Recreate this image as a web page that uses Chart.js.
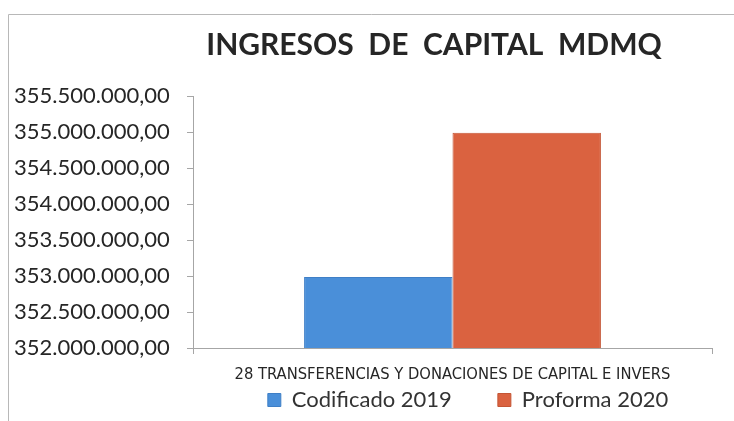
<!DOCTYPE html>
<html>
<head>
<meta charset="utf-8">
<script src="https://cdn.jsdelivr.net/npm/chart.js@4.4.1/dist/chart.umd.min.js"></script>
<style>
  html, body { margin: 0; padding: 0; background: #fff; }
  #wrap { width: 734px; height: 421px; position: relative; }
</style>
</head>
<body>
<div id="wrap"><canvas id="chart"></canvas></div>
<script>
const categories = ['28 TRANSFERENCIAS Y DONACIONES DE CAPITAL E INVERS'];
const seriesNames = ['Codificado 2019', 'Proforma 2020'];
const codificado2019 = [352985000];
const proforma2020 = [354990000];
const yMin = 352000000;
const yMax = 355500000;
const yStep = 500000;

const fmt = v => v.toLocaleString('de-DE', { minimumFractionDigits: 2, maximumFractionDigits: 2 });

// frame around the chart like the Excel chart border, and shift title/legend like Excel
const framePlugin = {
  id: 'frame',
  beforeDraw(chart) {
    const c = chart.ctx;
    c.save();
    c.strokeStyle = '#b8b8b8';
    c.lineWidth = 1;
    c.beginPath();
    c.moveTo(8.5, 421);
    c.lineTo(8.5, 14.5);
    c.lineTo(734, 14.5);
    c.stroke();
    c.restore();
  },
  afterLayout(chart) {
    const lg = chart.legend;
    if (lg) { lg.left += 105; lg.right += 105; }
    const tb = chart.titleBlock;
    if (tb) { tb.left += 71; tb.right += 71; }
  }
};

new Chart(document.getElementById('chart'), {
  type: 'bar',
  data: {
    labels: categories,
    datasets: [
      { label: seriesNames[0], data: codificado2019, backgroundColor: '#4a8fd9', borderColor: '#3f7fc6', borderWidth: 1 },
      { label: seriesNames[1], data: proforma2020, backgroundColor: '#da6240', borderColor: '#c45535', borderWidth: 1 }
    ]
  },
  plugins: [framePlugin],
  options: {
    responsive: true,
    maintainAspectRatio: false,
    animation: false,
    layout: { padding: { left: 14, right: 22, top: 14, bottom: 0 } },
    datasets: { bar: { barPercentage: 1, categoryPercentage: 0.572 } },
    plugins: {
      title: {
        display: true,
        text: 'INGRESOS  DE  CAPITAL  MDMQ',
        color: '#262626',
        font: { family: 'Lato', size: 30, weight: 'bold' },
        padding: { top: 13, bottom: 33 }
      },
      legend: {
        position: 'bottom',
        labels: {
          color: '#333',
          font: { family: 'Lato', size: 22 },
          boxWidth: 13,
          boxHeight: 13,
          padding: 2,
          generateLabels(chart) {
            const items = Chart.defaults.plugins.legend.labels.generateLabels(chart);
            items[0].text = items[0].text + '\u2003\u2003\u2002';
            return items;
          }
        }
      },
      tooltip: { enabled: false }
    },
    scales: {
      x: {
        grid: { offset: true, drawOnChartArea: false, tickLength: 6, color: '#a6a6a6' },
        border: { color: '#a6a6a6' },
        afterFit(scale) { scale.height = 39; },
        ticks: { color: '#262626', font: { family: "'DejaVu Sans Condensed', 'Liberation Sans Narrow', Arial", size: 16.4 }, padding: 11 }
      },
      y: {
        min: yMin,
        max: yMax,
        grid: { drawOnChartArea: false, tickLength: 6, color: '#a6a6a6' },
        border: { color: '#a6a6a6' },
        afterFit(scale) { scale.width = 179; },
        ticks: {
          stepSize: yStep,
          color: '#262626',
          crossAlign: 'far',
          font: { family: 'Lato', size: 22 },
          padding: 8,
          callback: v => fmt(v)
        }
      }
    }
  }
});
</script>
</body>
</html>
